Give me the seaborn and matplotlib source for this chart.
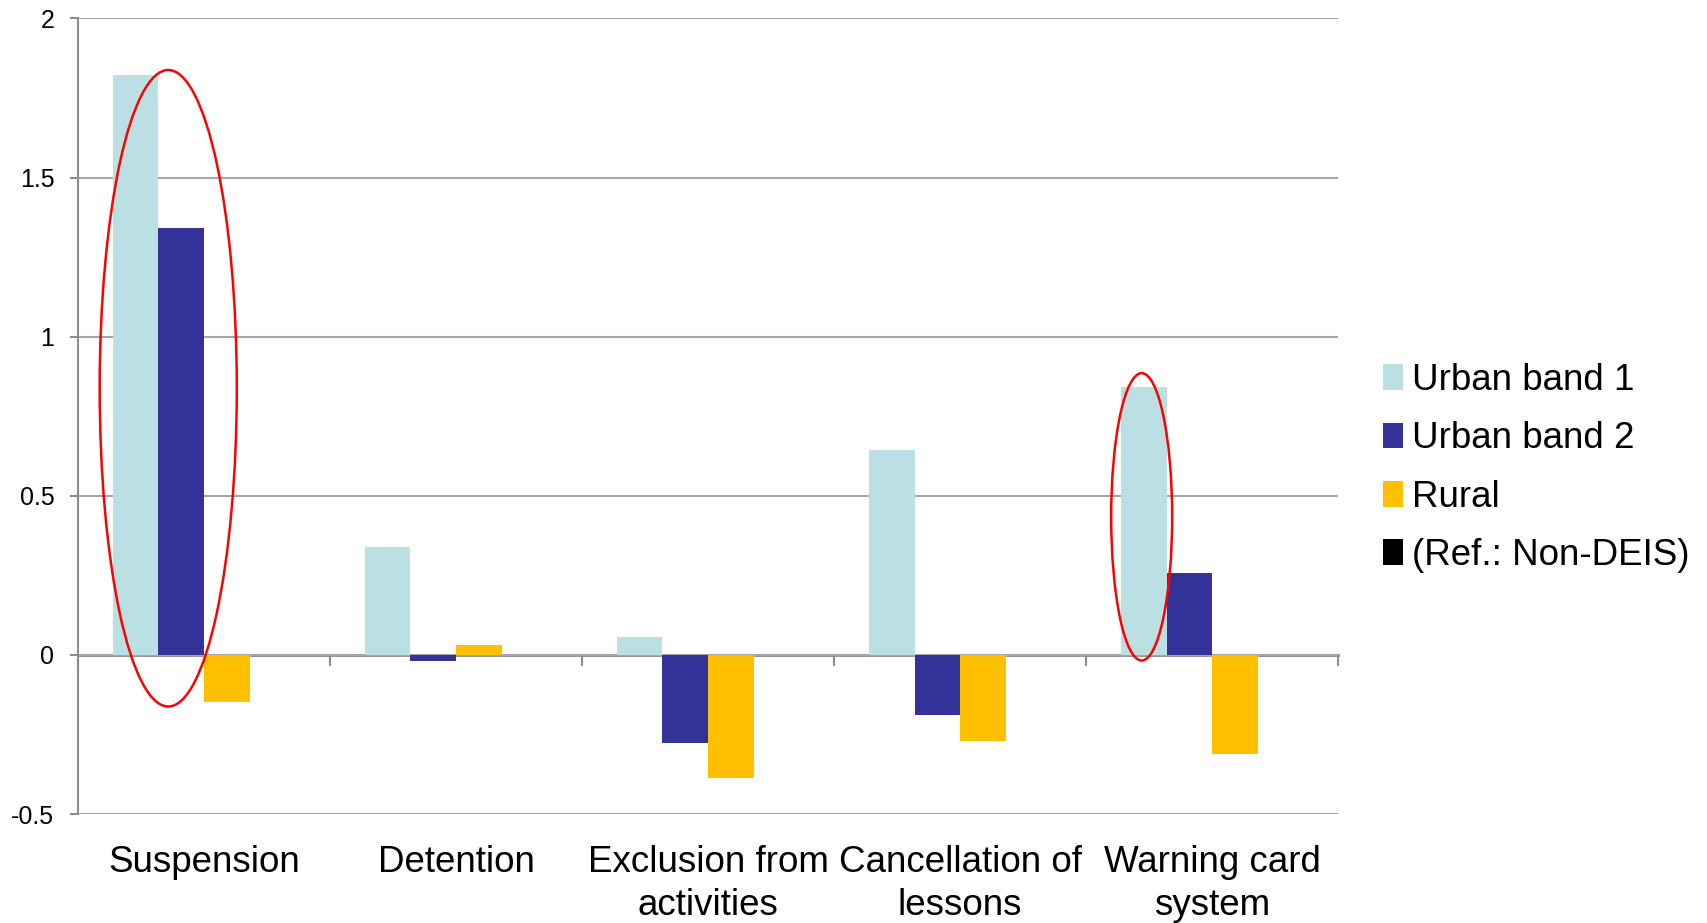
import matplotlib
matplotlib.use("Agg")
import matplotlib.pyplot as plt
from matplotlib.patches import Ellipse
import seaborn as sns
import pandas as pd
import numpy as np

categories = ["Suspension", "Detention", "Exclusion from\nactivities",
              "Cancellation of\nlessons", "Warning card\nsystem"]
series_names = ["Urban band 1", "Urban band 2", "Rural", "(Ref.: Non-DEIS)"]
urban_band_1 = [1.823, 0.339, 0.055, 0.643, 0.841]
urban_band_2 = [1.341, -0.020, -0.277, -0.188, 0.256]
rural = [-0.147, 0.031, -0.386, -0.270, -0.311]
ref_non_deis = [0.0, 0.0, 0.0, 0.0, 0.0]
colors = ["#BBE0E3", "#333399", "#FFC000", "#000000"]

# highlight ellipses (annotation): (x-center, y-center, width, height) in data units
highlights = [(-0.142, 0.838, 0.544, 2.0), (3.72, 0.434, 0.242, 0.903)]

rows = []
for name, vals in zip(series_names, [urban_band_1, urban_band_2, rural, ref_non_deis]):
    for c, v in zip(categories, vals):
        rows.append({"category": c, "series": name, "value": v})
df = pd.DataFrame(rows)

sns.set_theme(style="white")
plt.rcParams["font.family"] = ["Liberation Sans", "DejaVu Sans"]
plt.rcParams["text.color"] = "black"

fig = plt.figure(figsize=(17.07, 9.23), dpi=100)
ax = fig.add_axes([0.0457, 0.118, 0.784 - 0.0457, 0.98 - 0.118])

sns.barplot(data=df, x="category", y="value", hue="series", order=categories,
            hue_order=series_names, palette=colors, width=0.725, linewidth=0,
            saturation=1, ax=ax, legend=True)

ax.set_ylim(-0.5, 2)
ax.set_xlim(-0.5, len(categories) - 0.5)
ax.set_yticks([-0.5, 0, 0.5, 1, 1.5, 2])
ax.set_yticklabels(["-0.5", "0", "0.5", "1", "1.5", "2"])
ax.yaxis.grid(True, color="#A6A6A6", linewidth=1.5)
ax.set_axisbelow(True)
ax.set_xlabel("")
ax.set_ylabel("")

for s in ["top", "right", "bottom"]:
    ax.spines[s].set_visible(False)
ax.spines["left"].set_color("#8C8C8C")
ax.spines["left"].set_linewidth(1.5)

ax.tick_params(axis="y", which="major", left=True, length=6, width=1.5,
               color="#8C8C8C", pad=11, labelsize=18, labelcolor="black")
ax.tick_params(axis="x", which="major", bottom=False, length=0, pad=22,
               labelsize=26.5, labelcolor="black")
for lbl in ax.get_xticklabels():
    lbl.set_linespacing(1.3)

# zero line with category-boundary ticks
sec = ax.secondary_xaxis(0.2)
sec.set_xticks(np.arange(-0.5, len(categories), 1.0))
sec.set_xticklabels([])
sec.tick_params(axis="x", direction="out", length=8, width=1.5, color="#8C8C8C")
sec.spines["bottom"].set_color("#8C8C8C")
sec.spines["bottom"].set_linewidth(2)

for (xc, yc, w, h) in highlights:
    ax.add_patch(Ellipse((xc, yc), w, h, fill=False, edgecolor="#FF0000",
                         linewidth=1.8, zorder=5))

handles, labels = ax.get_legend_handles_labels()
ax.legend(handles, labels, loc="center left", bbox_to_anchor=(0.810, 0.493),
          bbox_transform=fig.transFigure, frameon=False, fontsize=26.5,
          handlelength=0.55, handleheight=0.7, handletextpad=0.25,
          labelspacing=0.63, borderaxespad=0, borderpad=0, labelcolor="black")

fig.savefig("out.png", dpi=100)
